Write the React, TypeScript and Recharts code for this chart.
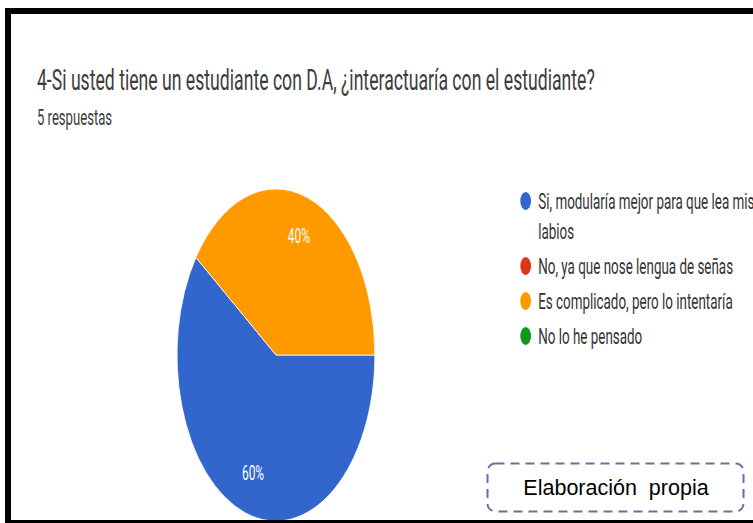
import React from 'react';
import { PieChart, Pie, Cell, Legend } from 'recharts';

const title = '4-Si usted tiene un estudiante con D.A, ¿interactuaría con el estudiante?';
const subtitle = '5 respuestas';
const categories = [
  'Si, modularía mejor para que lea mis labios',
  'No, ya que nose lengua de señas',
  'Es complicado, pero lo intentaría',
  'No lo he pensado',
];
const responses = [3, 0, 2, 0];
const colors = ['#3366cc', '#dc3912', '#ff9900', '#109618'];

const data = categories.map((name, i) => ({ name, value: responses[i] }));

// the screenshot is squeezed horizontally, so draw wide and squash with scaleX
const SX = 0.596;
const VW = 1400;
const H = 523;
const RAD = Math.PI / 180;

const font = 'Roboto, "Noto Sans", sans-serif';

function renderLabel(props: any) {
  const { cx, cy, midAngle, outerRadius, percent, value } = props;
  if (!value) return null;
  const r = outerRadius * 0.75;
  const x = cx + r * Math.cos(-midAngle * RAD);
  const y = cy + r * Math.sin(-midAngle * RAD);
  return (
    <text x={x} y={y} fill="#fff" fontSize={20} fontFamily={font} textAnchor="middle" dominantBaseline="central">
      {`${Math.round(percent * 100)}%`}
    </text>
  );
}

function LegendBox() {
  return (
    <div style={{ fontFamily: font, fontSize: 22.5, color: '#333' }}>
      {categories.map((c, i) => (
        <div key={c} style={{ display: 'flex', alignItems: 'flex-start', marginBottom: 5 }}>
          <span
            style={{
              width: 18,
              height: 18,
              borderRadius: '50%',
              background: colors[i],
              marginTop: 6,
              marginRight: 12,
              flex: 'none',
            }}
          />
          <span style={{ lineHeight: '30px', width: 395 }}>{c}</span>
        </div>
      ))}
    </div>
  );
}

export default function App() {
  return (
    <div style={{ position: 'absolute', left: 0, top: 0, width: 753, height: H, overflow: 'hidden', background: '#fff' }}>
      <div
        style={{
          position: 'absolute',
          left: 0,
          top: 0,
          width: VW,
          height: H,
          transform: `scaleX(${SX})`,
          transformOrigin: '0 0',
        }}
      >
        <div style={{ position: 'absolute', left: 62, top: 62, fontFamily: font, fontSize: 29.6, lineHeight: '36px', color: '#3c3c3c', whiteSpace: 'nowrap' }}>
          {title}
        </div>
        <div style={{ position: 'absolute', left: 62, top: 103, fontFamily: font, fontSize: 22, lineHeight: '30px', color: '#3c3c3c', whiteSpace: 'nowrap' }}>
          {subtitle}
        </div>
        <div style={{ position: 'absolute', left: 0, top: 0 }}>
          <PieChart width={VW} height={H} margin={{ top: 0, right: 0, bottom: 0, left: 0 }}>
            <Pie
              data={data}
              dataKey="value"
              nameKey="name"
              cx={463}
              cy={355}
              outerRadius={166}
              startAngle={144}
              endAngle={504}
              stroke="#fff"
              strokeWidth={1}
              label={renderLabel}
              labelLine={false}
              isAnimationActive={false}
            >
              {data.map((d, i) => (
                <Cell key={d.name} fill={colors[i]} />
              ))}
            </Pie>
            <Legend
              layout="vertical"
              align="right"
              verticalAlign="top"
              content={() => <LegendBox />}
              wrapperStyle={{ left: 873, right: 'auto', top: 186, width: 460 }}
            />
          </PieChart>
        </div>
      </div>

      {/* frame */}
      <div
        style={{
          position: 'absolute',
          left: 5,
          top: 8,
          width: 800,
          height: 515,
          boxSizing: 'border-box',
          borderLeft: '6px solid #000',
          borderTop: '6px solid #000',
          borderBottom: '3px solid #000',
        }}
      />

      {/* note box */}
      <svg style={{ position: 'absolute', left: 486, top: 462 }} width={260} height={52}>
        <rect x={1.5} y={1.5} width={256} height={48} rx={8} fill="#fff" stroke="#8064a2" strokeWidth={2} strokeDasharray="9 6" />
      </svg>
      <div
        style={{
          position: 'absolute',
          left: 486,
          top: 462,
          width: 260,
          height: 52,
          lineHeight: '52px',
          textAlign: 'center',
          fontFamily: 'Arial, "Liberation Sans", sans-serif',
          fontSize: 21.5,
          color: '#000',
          whiteSpace: 'pre',
        }}
      >
        {'Elaboración  propia'}
      </div>
    </div>
  );
}
